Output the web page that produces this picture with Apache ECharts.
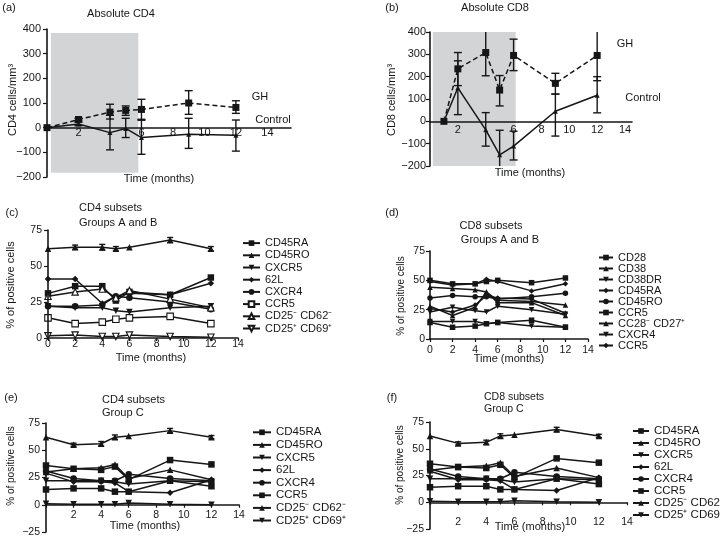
<!DOCTYPE html>
<html>
<head>
<meta charset="utf-8">
<script src="https://cdn.jsdelivr.net/npm/echarts@6/dist/echarts.min.js"></script>
<style>html,body{margin:0;background:#fff}#main{width:720px;height:538px}</style>
</head>
<body>
<div id="main"></div>
<script>
// time points (months)
var months = [0, 2, 4, 5, 6, 9, 12];
var monthsB = [1, 2, 4, 5, 6, 9, 12];

// (a) absolute CD4, change from baseline
var cd4Gh = [0, 33, 63, 70, 74, 100, 82];
var cd4GhLo = [0, 28, 35, 50, 34, 54, 58];
var cd4GhHi = [0, 38, 95, 88, 115, 150, 109];
var cd4Ctrl = [0, 15, -20, -3, -40, -27, -31];
var cd4CtrlLo = [0, 8, -90, -40, -108, -84, -95];
var cd4CtrlHi = [0, 22, 50, 38, 30, 38, 31];
var shadeA = [0.25, 5.8, -183, 384];

// (b) absolute CD8
var cd8Gh = [0, 235, 308, 140, 295, 170, 295];
var cd8GhLo = [0, 160, 204, 69, 227, 122, 182];
var cd8GhHi = [0, 308, 430, 205, 368, 215, 430];
var cd8Ctrl = [0, 150, -38, -150, -111, 45, 117];
var cd8CtrlLo = [0, 30, -111, -260, -173, -66, 38];
var cd8CtrlHi = [0, 271, 39, -40, -44, 122, 200];
var shadeB = [0.2, 6.15, -200, 400];

// (c) CD4 subsets, groups A and B
var namesC = ['CD45RA', 'CD45RO', 'CXCR5', '62L', 'CXCR4', 'CCR5', 'CD25\u207b CD62\u207b', 'CD25\u207a CD69\u207a'];
var valuesC = [
    [31, 36, 36, 26, 32, 30, 42],
    [62, 63, 63, 62, 63, 68, 62],
    [22, 21, 21, 19, 18, 21, 22],
    [41, 41, 24, 29, 31, 30, 38],
    [22, 22, 23, 29, 28, 25, 20],
    [14, 10, 11, 13, 14, 15, 10],
    [29, 32, 34, 28, 33, 27, 21],
    [1.5, 2, 1, 1, 2, 1, 0.5]
];
var cd45roErrC = [0, 1.5, 2, 1.5, 0, 1.8, 1.5];

// (d) CD8 subsets, groups A and B
var namesD = ['CD28', 'CD38', 'CD38DR', 'CD45RA', 'CD45RO', 'CCR5', 'CC28\u207b CD27\u207a', 'CXCR4', 'CCR5 '];
var valuesD = [
    [50, 47, 47, 49, 50, 48, 52],
    [44, 43, 42, 40, 33, 32, 29],
    [23, 27, 24, 23, 28, 25, 21],
    [49, 46, 47, 51, 49, 41, 47],
    [35, 37, 36, 36, 34, 36, 39],
    [14, 10, 11, 13, 14, 16, 10],
    [28, 20, 27, 40, 31, 31, 20],
    [15, 15, 15, 13, 14, 11, 10],
    [26, 23, 29, 37, 35, 34, 22]
];

// (e) and (f) group C
var namesE = ['CD45RA', 'CD45RO', 'CXCR5', '62L', 'CXCR4', 'CCR5', 'CD25\u207b CD62\u207b', 'CD25\u207a CD69\u207a'];
var valuesE = [
    [36, 33, 32, 35, 23, 41, 37],
    [62, 55, 56, 62, 63, 68, 62],
    [22, 22, 22, 21, 19, 22, 21],
    [29, 21, 21, 20, 12, 11, 23],
    [31, 24, 22, 22, 28, 24, 22],
    [14, 15, 15, 12, 12, 22, 17],
    [30, 33, 34, 37, 24, 32, 23],
    [1, 0.5, 0.5, 0.5, 1.5, 0.5, 0]
];
var cd45roErrE = [0, 1.5, 2, 2, 0, 2, 1.5];

var FONT = '"Liberation Sans", Arial, sans-serif';
var INK = '#161616';

// marker styles
var symSubsetsC = [
    {s: 'rect'}, {s: 'triangle'}, {s: 'triangle', r: 180}, {s: 'diamond'},
    {s: 'circle'}, {s: 'rect', open: true}, {s: 'triangle', open: true},
    {s: 'triangle', r: 180, open: true}
];
var symSubsetsD = [
    {s: 'rect'}, {s: 'triangle'}, {s: 'triangle', r: 180}, {s: 'diamond'},
    {s: 'circle'}, {s: 'rect'}, {s: 'triangle'}, {s: 'triangle', r: 180},
    {s: 'diamond'}
];
var symSubsetsE = [
    {s: 'rect'}, {s: 'triangle'}, {s: 'triangle', r: 180}, {s: 'diamond'},
    {s: 'circle'}, {s: 'rect'}, {s: 'triangle'}, {s: 'triangle', r: 180}
];

function pairs(xs, ys) {
    return xs.map(function (x, i) { return [x, ys[i]]; });
}
function spans(xs, lo, hi) {
    return xs.map(function (x, i) { return [x, lo[i], hi[i]]; })
        .filter(function (d) { return d[1] !== d[2]; });
}

function errSeries(name, idx, data, cap) {
    return {
        name: name, type: 'custom', xAxisIndex: idx, yAxisIndex: idx, z: 4,
        encode: {x: 0, y: [1, 2]}, data: data, silent: true,
        renderItem: function (params, api) {
            var cs = params.coordSys;
            var x = api.value(0);
            var top = api.coord([x, api.value(2)]);
            var bot = api.coord([x, api.value(1)]);
            var px = top[0];
            var y1 = Math.max(top[1], cs.y), y2 = Math.min(bot[1], cs.y + cs.height);
            var st = {stroke: INK, lineWidth: 1.4};
            var ch = [{type: 'line', shape: {x1: px, y1: y1, x2: px, y2: y2}, style: st}];
            if (top[1] >= cs.y) ch.push({type: 'line', shape: {x1: px - cap, y1: top[1], x2: px + cap, y2: top[1]}, style: st});
            if (bot[1] <= cs.y + cs.height) ch.push({type: 'line', shape: {x1: px - cap, y1: bot[1], x2: px + cap, y2: bot[1]}, style: st});
            return {type: 'group', children: ch};
        }
    };
}

function lineSeries(name, idx, data, sym, size, dashed) {
    return {
        name: name, type: 'line', xAxisIndex: idx, yAxisIndex: idx, data: data, z: 3,
        symbol: sym.s, symbolRotate: sym.r || 0, symbolSize: size,
        itemStyle: sym.open ? {color: '#fff', borderColor: INK, borderWidth: 1.1} : {color: INK},
        lineStyle: {color: INK, width: 1.5, type: dashed ? [5, 3] : 'solid'},
        emphasis: {disabled: true}
    };
}

function subsetSeries(names, values, syms, panel, idx, size) {
    return names.map(function (n, i) {
        return lineSeries(n + '|' + panel, idx, pairs(months, values[i]), syms[i], size);
    });
}

function minus(v) { return String(v).replace('-', '\u2212'); }

// offset moves the x axis up from the grid bottom to the zero line
function xAx(idx, max, opts) {
    return {
        type: 'value', gridIndex: idx, min: 0, max: max, interval: 2, z: 5,
        position: 'bottom', offset: opts.offset || 0,
        axisLine: {onZero: false, lineStyle: {color: INK, width: 1.6}},
        axisTick: {show: opts.tick, length: 3, lineStyle: {color: INK, width: 1.2}},
        axisLabel: {margin: opts.margin, fontSize: opts.size, color: INK, fontFamily: FONT,
            formatter: function (v) {
                if (v % 2 !== 0 || v > 14 || opts.hide.indexOf(v) >= 0) return '';
                return String(v);
            }},
        splitLine: {show: false}
    };
}

function yAx(idx, min, max, step, margin, size) {
    return {
        type: 'value', gridIndex: idx, min: min, max: max, interval: step, z: 5,
        axisLine: {show: true, onZero: false, lineStyle: {color: INK, width: 1.6}},
        axisTick: {show: true, length: 4, lineStyle: {color: INK, width: 1.2}},
        axisLabel: {margin: margin, fontSize: size, color: INK, fontFamily: FONT, formatter: minus},
        splitLine: {show: false}
    };
}

function legendFor(names, panel, left, top, rowH, iw, size) {
    return {
        orient: 'vertical', left: left, top: top, padding: 0, itemGap: 0,
        itemWidth: iw, itemHeight: 7, selectedMode: false,
        data: names.map(function (n) { return n + '|' + panel; }),
        formatter: function (n) { return n.split('|')[0]; },
        textStyle: {fontSize: size, color: INK, fontFamily: FONT, lineHeight: rowH}
    };
}

function txt(text, x, y, size, align, rot) {
    return {
        type: 'text', x: x, y: y, rotation: rot ? Math.PI / 2 : 0, z: 10,
        style: {text: text, fontSize: size, fontFamily: FONT, fill: INK,
            align: align || 'center', verticalAlign: 'middle'}
    };
}

var chart = echarts.init(document.getElementById('main'));

var series = [];
// (a)
var ghA = lineSeries('GH|a', 0, pairs(months, cd4Gh), {s: 'rect'}, 7, true);
ghA.markArea = {silent: true, itemStyle: {color: '#d3d4d6'},
    data: [[{xAxis: shadeA[0], yAxis: shadeA[3]}, {xAxis: shadeA[1], yAxis: shadeA[2]}]]};
series.push(ghA);
series.push(lineSeries('Control|a', 0, pairs(months, cd4Ctrl), {s: 'triangle'}, 5));
series.push(errSeries('errGH|a', 0, spans(months, cd4GhLo, cd4GhHi), 4));
series.push(errSeries('errCtrl|a', 0, spans(months, cd4CtrlLo, cd4CtrlHi), 4));
// (b)
var ghB = lineSeries('GH|b', 1, pairs(monthsB, cd8Gh), {s: 'rect'}, 7, true);
ghB.markArea = {silent: true, itemStyle: {color: '#d3d4d6'},
    data: [[{xAxis: shadeB[0], yAxis: shadeB[3]}, {xAxis: shadeB[1], yAxis: shadeB[2]}]]};
series.push(ghB);
series.push(lineSeries('Control|b', 1, pairs(monthsB, cd8Ctrl), {s: 'triangle'}, 5));
series.push(errSeries('errGH|b', 1, spans(monthsB, cd8GhLo, cd8GhHi), 4));
series.push(errSeries('errCtrl|b', 1, spans(monthsB, cd8CtrlLo, cd8CtrlHi), 4));
// (c) (d) (e) (f)
series = series.concat(subsetSeries(namesC, valuesC, symSubsetsC, 'c', 2, 6.5));
series.push(errSeries('err|c', 2, spans(months,
    valuesC[1].map(function (v, i) { return v - cd45roErrC[i]; }),
    valuesC[1].map(function (v, i) { return v + cd45roErrC[i]; })), 3));
series = series.concat(subsetSeries(namesD, valuesD, symSubsetsD, 'd', 3, 5.5));
series = series.concat(subsetSeries(namesE, valuesE, symSubsetsE, 'e', 4, 6.5));
series.push(errSeries('err|e', 4, spans(months,
    valuesE[1].map(function (v, i) { return v - cd45roErrE[i]; }),
    valuesE[1].map(function (v, i) { return v + cd45roErrE[i]; })), 3));
series = series.concat(subsetSeries(namesE, valuesE, symSubsetsE, 'f', 5, 6.5));
series.push(errSeries('err|f', 5, spans(months,
    valuesE[1].map(function (v, i) { return v - cd45roErrE[i]; }),
    valuesE[1].map(function (v, i) { return v + cd45roErrE[i]; })), 3));

var option = {
    animation: false,
    backgroundColor: '#fff',
    textStyle: {fontFamily: FONT},
    grid: [
        {left: 47, top: 29, width: 244, height: 148},
        {left: 430, top: 32, width: 202, height: 134},
        {left: 48, top: 230, width: 190, height: 108},
        {left: 430, top: 251, width: 158, height: 88},
        {left: 46, top: 423, width: 193, height: 109},
        {left: 430, top: 422, width: 197, height: 107}
    ],
    xAxis: [
        xAx(0, 15.5, {tick: false, margin: 0, size: 11, hide: [0, 4], offset: -49.33}),
        xAx(1, 14.5, {tick: false, margin: 3, size: 11, hide: [0, 4], offset: -44.67}),
        xAx(2, 14, {tick: true, margin: 1, size: 10.5, hide: []}),
        xAx(3, 14, {tick: true, margin: 6, size: 10.5, hide: []}),
        xAx(4, 14, {tick: true, margin: 5, size: 10.5, hide: [0], offset: -27.25}),
        xAx(5, 14, {tick: true, margin: 14, size: 10.5, hide: [0], offset: -26.75})
    ],
    yAxis: [
        yAx(0, -200, 400, 100, 6, 11),
        yAx(1, -200, 400, 100, 4, 11),
        yAx(2, 0, 75, 25, 6, 10.5),
        yAx(3, 0, 75, 25, 5, 10.5),
        yAx(4, -25, 75, 25, 6, 10.5),
        yAx(5, -25, 75, 25, 6, 10.5)
    ],
    legend: [
        legendFor(namesC, 'c', 242, 237, 12.2, 17, 11),
        legendFor(namesD, 'd', 598, 252, 9.5, 14, 11),
        legendFor(namesE, 'e', 252, 426, 12.6, 18, 11.5),
        legendFor(namesE, 'f', 632, 425, 11.9, 16, 11.5)
    ],
    graphic: [
        txt('(a)', 9, 8, 11), txt('Absolute CD4', 121, 14, 11),
        txt('GH', 260, 97, 11), txt('Control', 273, 120, 11),
        txt('Time (months)', 159, 179, 11), txt('CD4 cells/mm\u00b3', 13, 100, 11, 'center', true),
        txt('(b)', 392, 8, 11), txt('Absolute CD8', 495, 8, 11),
        txt('GH', 625, 44, 11), txt('Control', 643, 98, 11),
        txt('Time (months)', 530, 173, 11), txt('CD8 cells/mm\u00b3', 392, 100, 11, 'center', true),
        txt('(c)', 12, 213, 11), txt('CD4 subsets', 79, 208, 11, 'left'),
        txt('Groups A and B', 79, 223, 11, 'left'), txt('Time (months)', 151, 358, 11),
        txt('% of positive cells', 11, 285, 11, 'center', true),
        txt('(d)', 392, 213, 11), txt('CD8 subsets', 491, 226, 11),
        txt('Groups A and B', 500, 240, 11), txt('Time (months)', 509, 359, 11),
        txt('% of positive cells', 401, 296, 10, 'center', true),
        txt('(e)', 11, 398, 11), txt('CD4 subsets', 102, 400, 11, 'left'),
        txt('Group C', 102, 413, 11, 'left'), txt('Time (months)', 145, 526, 11),
        txt('% of positive cells', 11, 466, 10, 'center', true),
        txt('(f)', 392, 398, 11), txt('CD8 subsets', 484, 397, 10.5, 'left'),
        txt('Group C', 484, 409, 10.5, 'left'), txt('Time (months)', 530, 527, 11),
        txt('% of positive cells', 400, 465, 10, 'center', true)
    ],
    series: series
};
chart.setOption(option);
</script>
</body>
</html>
